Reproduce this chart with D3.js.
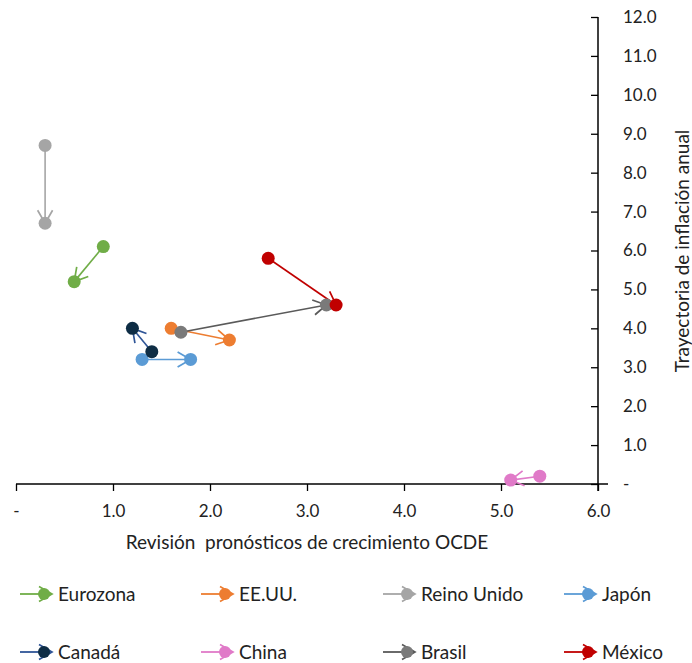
<!DOCTYPE html>
<html><head><meta charset="utf-8">
<script src="https://cdn.jsdelivr.net/npm/d3@7"></script>
<style>body{margin:0;background:#fff}svg{display:block}text{font-family:Lato,"Open Sans",sans-serif;fill:#222;white-space:pre}</style>
</head><body><svg id="c" width="692" height="663"></svg>
<script>
const countries = ["Eurozona","EE.UU.","Reino Unido","Japón","Canadá","China","Brasil","México"];
const growthFrom = [0.9, 1.6, 0.3, 1.3, 1.4, 5.4, 1.7, 2.6];
const growthTo   = [0.6, 2.2, 0.3, 1.8, 1.2, 5.1, 3.2, 3.3];
const inflFrom   = [6.1, 4.0, 8.7, 3.2, 3.4, 0.2, 3.9, 5.8];
const inflTo     = [5.2, 3.7, 6.7, 3.2, 4.0, 0.1, 4.6, 4.6];
const xTicks = [0,1,2,3,4,5,6];
const yTicks = [0,1,2,3,4,5,6,7,8,9,10,11,12];
const xTitle = "Revisión  pronósticos de crecimiento OCDE";
const yTitle = "Trayectoria de inflación anual";

const lineColor = ["#70AD47","#ED7D31","#A5A5A5","#5B9BD5","#2F5597","#E07AC8","#5A5A5A","#C00000"];
const dotColor  = ["#70AD47","#ED7D31","#A5A5A5","#5B9BD5","#0E2D45","#E07AC8","#7A7A7A","#C00000"];

const svg = d3.select("#c");
const x = d3.scaleLinear().domain([0,6]).range([16,598]);
const y = d3.scaleLinear().domain([0,12]).range([484,17]);
const fmt = v => v === 0 ? "-" : v.toFixed(1);

// x axis
const gx = svg.append("g").attr("transform","translate(0,484)")
  .call(d3.axisBottom(x).tickValues(xTicks).tickFormat(fmt).tickSize(7).tickPadding(14).tickSizeOuter(0));
gx.select(".domain").remove();
gx.append("line").attr("x1",16).attr("x2",608).attr("stroke","#000").attr("stroke-width",1.5);
gx.selectAll(".tick line").attr("stroke","#000").attr("stroke-width",1.3);
gx.selectAll(".tick text").attr("font-size",17).attr("fill","#222").style("font-family","Lato");

// y axis: ticks to left, labels right
const gyT = svg.append("g").attr("transform","translate(598,0)")
  .call(d3.axisLeft(y).tickValues(yTicks).tickFormat("").tickSize(7).tickSizeOuter(0));
gyT.select(".domain").remove();
gyT.selectAll(".tick line").attr("stroke","#000").attr("stroke-width",1.3);
gyT.append("line").attr("y1",17).attr("y2",491).attr("stroke","#000").attr("stroke-width",1.5);
const gyL = svg.append("g").attr("transform","translate(598,0)")
  .call(d3.axisRight(y).tickValues(yTicks).tickFormat(fmt).tickSize(0).tickPadding(25));
gyL.select(".domain").remove();
gyL.selectAll(".tick text").attr("font-size",17).attr("fill","#222").style("font-family","Lato");

svg.append("text").attr("x",307).attr("y",549).attr("text-anchor","middle").attr("font-size",19).text(xTitle);
svg.append("text").attr("transform","translate(689,251) rotate(-90)").attr("text-anchor","middle").attr("font-size",19).text(yTitle);

// markers
const defs = svg.append("defs");
countries.forEach((c,i)=>{
  defs.append("marker").attr("id","m"+i).attr("markerUnits","userSpaceOnUse")
    .attr("viewBox","-14 -9 16 18").attr("refX",0).attr("refY",0)
    .attr("markerWidth",16).attr("markerHeight",18).attr("orient","auto")
    .append("path").attr("d","M-13,-7.5 L0,0 L-13,7.5").attr("fill","none")
    .attr("stroke",lineColor[i]).attr("stroke-width",1.7);
});

const plot = svg.append("g");
countries.forEach((c,i)=>{
  plot.append("line")
    .attr("x1",x(growthFrom[i])).attr("y1",y(inflFrom[i]))
    .attr("x2",x(growthTo[i])).attr("y2",y(inflTo[i]))
    .attr("stroke",lineColor[i]).attr("stroke-width",1.6)
    .attr("marker-end","url(#m"+i+")");
});
countries.forEach((c,i)=>{
  plot.append("circle").attr("cx",x(growthFrom[i])).attr("cy",y(inflFrom[i])).attr("r",6.5).attr("fill",dotColor[i]);
  plot.append("circle").attr("cx",x(growthTo[i])).attr("cy",y(inflTo[i])).attr("r",6.5).attr("fill",dotColor[i]);
});

// legend
const legX = [20,201,383,564];
const legY = [594,652];
countries.forEach((c,i)=>{
  const lx = legX[i%4], ly = legY[Math.floor(i/4)];
  const g = svg.append("g").attr("transform",`translate(${lx},${ly})`);
  g.append("line").attr("x1",0).attr("x2",32).attr("y1",0).attr("y2",0)
    .attr("stroke",lineColor[i]).attr("stroke-width",1.8).attr("marker-end","url(#m"+i+")");
  g.append("circle").attr("cx",24).attr("cy",0).attr("r",6).attr("fill",dotColor[i]);
  g.append("text").attr("x",38).attr("y",6.5).attr("font-size",19).text(c);
});
</script></body></html>
